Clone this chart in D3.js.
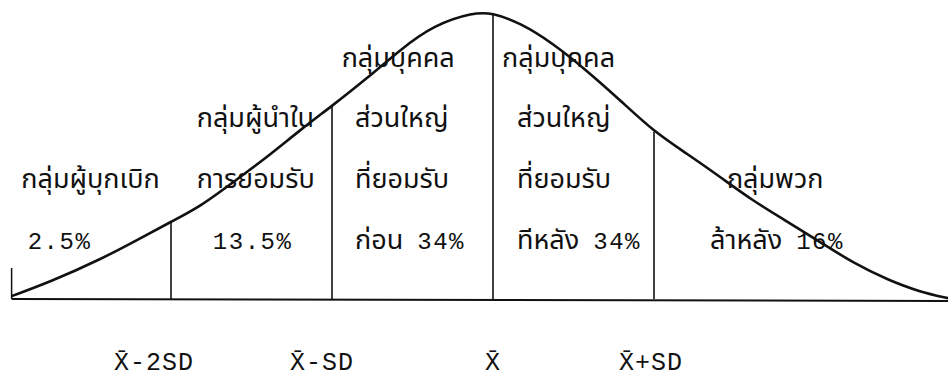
<!DOCTYPE html>
<html>
<head>
<meta charset="utf-8">
<script src="https://cdn.jsdelivr.net/npm/d3@7"></script>
<style>
  html, body { margin: 0; padding: 0; background: #fff; }
  svg { display: block; }
  .thai { font-family: "Tlwg Typist", "Tlwg Mono", "Noto Sans Thai", Loma, Garuda, "DejaVu Sans", sans-serif; font-size: 27px; fill: #111; }
  .num { font-family: "Liberation Mono", "DejaVu Sans Mono", monospace; font-size: 24px; letter-spacing: 1.5px; fill: #111; }
  .tick { font-family: "Liberation Mono", "DejaVu Sans Mono", monospace; font-size: 25px; letter-spacing: 1px; fill: #111; }
</style>
</head>
<body>
<svg id="chart" width="948" height="378"></svg>
<script>
// curve: position in SD units, height (density)
const curveSD = [-2.99, -2.75, -2.44, -2.19, -2.0, -1.82, -1.61, -1.40, -1.20, -1.0, -0.78, -0.58, -0.37, -0.12, 0,
  0.17, 0.37, 0.58, 0.79, 1.0, 1.2, 1.41, 1.61, 1.83, 2.03, 2.24, 2.45, 2.65, 2.83];
const curveH = [0.004, 0.024, 0.055, 0.085, 0.108, 0.129, 0.164, 0.199, 0.236, 0.270, 0.309, 0.348, 0.383, 0.401, 0.40,
  0.386, 0.358, 0.320, 0.278, 0.234, 0.204, 0.171, 0.138, 0.108, 0.080, 0.050, 0.027, 0.010, 0.001];

// group boundaries, their labels and where the labels sit (SD units)
const cuts = [-2, -1, 0, 1];
const tickLabels = ['X̄-2SD', 'X̄-SD', 'X̄', 'X̄+SD'];
const tickPos = [-2.106, -1.062, 0, 0.981];

// group label lines: text, left edge (SD units), row
const labelText = ['กลุ่มผู้บุกเบิก', 'กลุ่มผู้นำใน', 'การยอมรับ', 'กลุ่มบุคคล', 'ส่วนใหญ่', 'ที่ยอมรับ',
  'กลุ่มบุคคล', 'ส่วนใหญ่', 'ที่ยอมรับ', 'กลุ่มพวก'];
const labelX = [-2.93, -1.84, -1.84, -0.94, -0.857, -0.857, 0.056, 0.149, 0.149, 1.453];
const labelRow = [2, 1, 2, 0, 1, 2, 0, 1, 2, 2];

// share row: thai word, percent, left edge (SD units)
const pctWord = ['', '', 'ก่อน', 'ทีหลัง', 'ล้าหลัง'];
const pctValue = ['2.5%', '13.5%', '34%', '34%', '16%'];
const pctX = [-2.89, -1.74, -0.857, 0.149, 1.348];

const svg = d3.select('#chart');
const x = d3.scaleLinear().domain([-3, 3]).range([10, 976]);
const y = d3.scaleLinear().domain([0, 0.4]).range([299, 13]);
const rowY = [67, 127, 188, 249];

// baseline
svg.append('line')
  .attr('x1', x(-2.99)).attr('x2', 948)
  .attr('y1', y(0)).attr('y2', y(0) + 2)
  .attr('stroke', '#111').attr('stroke-width', 2);

// small left stub
svg.append('line')
  .attr('x1', x(-2.99)).attr('x2', x(-2.99))
  .attr('y1', y(0)).attr('y2', y(0) - 31)
  .attr('stroke', '#111').attr('stroke-width', 1.5);

// boundary lines from baseline up to the curve
svg.selectAll('line.cut')
  .data(cuts)
  .enter().append('line')
  .attr('class', 'cut')
  .attr('x1', d => x(d)).attr('x2', d => x(d))
  .attr('y1', y(0))
  .attr('y2', d => y(curveH[curveSD.indexOf(d)]))
  .attr('stroke', '#111').attr('stroke-width', 1.6);

// the bell
const pts = curveSD.map((d, i) => [d, curveH[i]]);
svg.append('path')
  .datum(pts)
  .attr('d', d3.line().x(d => x(d[0])).y(d => y(d[1])).curve(d3.curveBasis))
  .attr('fill', 'none')
  .attr('stroke', '#111')
  .attr('stroke-width', 2.6);

// group labels
svg.selectAll('text.lbl')
  .data(labelText)
  .enter().append('text')
  .attr('class', 'lbl thai')
  .attr('x', (d, i) => x(labelX[i]))
  .attr('y', (d, i) => rowY[labelRow[i]])
  .text(d => d);

// share row
const pct = svg.selectAll('text.pct')
  .data(pctValue)
  .enter().append('text')
  .attr('class', 'pct')
  .attr('x', (d, i) => x(pctX[i]))
  .attr('y', rowY[3]);
pct.append('tspan')
  .attr('class', 'thai')
  .text((d, i) => pctWord[i] ? pctWord[i] + '\u00a0 ' : '');
pct.append('tspan')
  .attr('class', 'num')
  .text(d => d);

// bottom labels
svg.selectAll('text.tick')
  .data(tickPos)
  .enter().append('text')
  .attr('class', 'tick')
  .attr('x', d => x(d))
  .attr('y', 370)
  .attr('text-anchor', 'middle')
  .text((d, i) => tickLabels[i]);
</script>
</body>
</html>
